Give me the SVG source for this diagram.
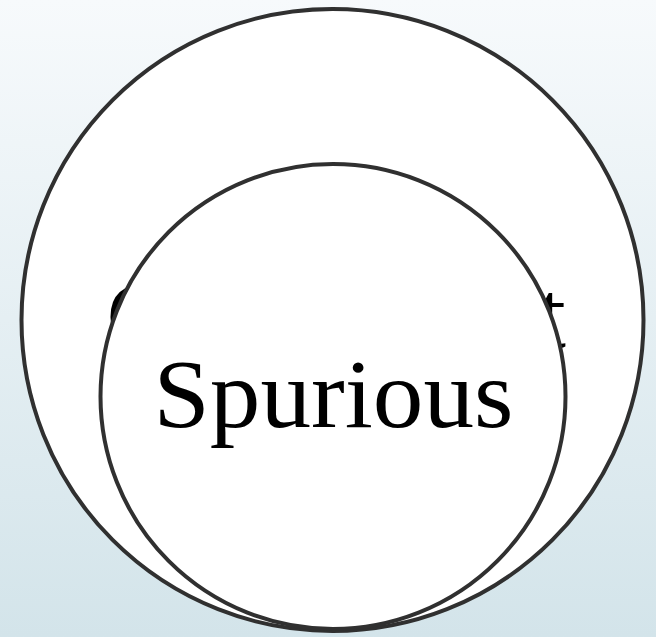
<svg xmlns="http://www.w3.org/2000/svg" width="656" height="637" viewBox="0 0 656 637">
  <defs>
    <linearGradient id="bg" x1="0" y1="0" x2="0" y2="1">
      <stop offset="0" stop-color="#f7fafc"/>
      <stop offset="1" stop-color="#d3e4ea"/>
    </linearGradient>
  </defs>
  <style>
    .set { fill: #ffffff; stroke: #303030; stroke-width: 4; }
    .label { font-family: "Liberation Serif", "DejaVu Serif", serif; font-size: 98px; fill: #000000; text-anchor: middle; }
  </style>
  <rect x="0" y="0" width="656" height="637" fill="url(#bg)"/>
  <g id="consistent">
    <circle class="set" cx="332.5" cy="320" r="311"/>
    <text class="label" x="336" y="348" textLength="460" lengthAdjust="spacingAndGlyphs">Consistent</text>
  </g>
  <g id="spurious">
    <circle class="set" cx="333" cy="396.5" r="232.5"/>
    <text class="label" x="333.5" y="427" textLength="360" lengthAdjust="spacingAndGlyphs">Spurious</text>
  </g>
  <g id="connectors"/>
</svg>
